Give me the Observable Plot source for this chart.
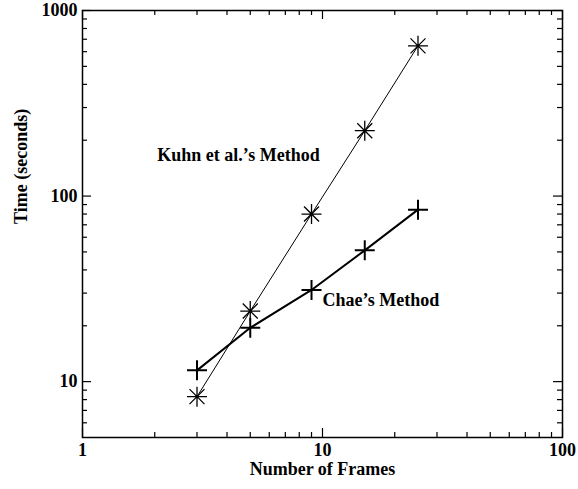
<!DOCTYPE html>
<html>
<head>
<meta charset="utf-8">
<script src="https://cdn.jsdelivr.net/npm/d3@7"></script>
<script src="https://cdn.jsdelivr.net/npm/@observablehq/plot@0.6"></script>
<style>
  html, body { margin: 0; padding: 0; background: #fff; }
</style>
</head>
<body>
<div id="chart"></div>
<script>
// ---- data ----
const frames = [3, 5, 9, 15, 25];
const kuhnTimes = [8.3, 24, 80, 225, 645];
const chaeTimes = [11.5, 19.5, 31.2, 51, 84.5];

const xTickValues = [1, 10, 100];
const xMinorTicks = [2, 3, 4, 5, 6, 7, 8, 9, 20, 30, 40, 50, 60, 70, 80, 90];
const yTickValues = [10, 100, 1000];
const yMinorTicks = [6, 7, 8, 9, 20, 30, 40, 50, 60, 70, 80, 90, 200, 300, 400, 500, 600, 700, 800, 900];

const seriesLabels = ["Kuhn et al.\u2019s Method", "Chae\u2019s Method"];
const labelX = [2.05, 10];
const labelY = [165, 27.5];

const xTitle = "Number of Frames";
const yTitle = "Time (seconds)";

// ---- layout ----
const W = 578, H = 489;
const mL = 82, mR = 16, mT = 10, mB = 52;
const plotW = W - mL - mR, plotH = H - mT - mB;
const major = 9, minor = 5;

const kuhn = frames.map((f, i) => ({frames: f, time: kuhnTimes[i]}));
const chae = frames.map((f, i) => ({frames: f, time: chaeTimes[i]}));
const labels = seriesLabels.map((t, i) => ({text: t, x: labelX[i], y: labelY[i]}));

const asterisk8 = {
  draw(ctx, size) {
    const r = Math.sqrt(size / Math.PI);
    const d = r * 0.75;
    ctx.moveTo(-r, 0); ctx.lineTo(r, 0);
    ctx.moveTo(0, -r); ctx.lineTo(0, r);
    ctx.moveTo(-d, -d); ctx.lineTo(d, d);
    ctx.moveTo(-d, d); ctx.lineTo(d, -d);
  }
};
const plusOpen = {
  draw(ctx, size) {
    const r = Math.sqrt(size / Math.PI);
    ctx.moveTo(-r, 0); ctx.lineTo(r, 0);
    ctx.moveTo(0, -r); ctx.lineTo(0, r);
  }
};

const chart = Plot.plot({
  width: W,
  height: H,
  marginLeft: mL,
  marginRight: mR,
  marginTop: mT,
  marginBottom: mB,
  style: {fontFamily: "'Liberation Serif', 'Times New Roman', serif", fontWeight: "bold", fontSize: "18px", color: "black", background: "white"},
  x: {type: "log", domain: [1, 100], axis: null},
  y: {type: "log", domain: [5, 1000], axis: null},
  marks: [
    // inward ticks: bottom
    Plot.ruleX(xTickValues, {x: d => d, insetTop: plotH - major, stroke: "black", strokeWidth: 1.2}),
    Plot.ruleX(xMinorTicks, {x: d => d, insetTop: plotH - minor, stroke: "black", strokeWidth: 1.2}),
    // top
    Plot.ruleX(xTickValues, {x: d => d, insetBottom: plotH - major, stroke: "black", strokeWidth: 1.2}),
    Plot.ruleX(xMinorTicks, {x: d => d, insetBottom: plotH - minor, stroke: "black", strokeWidth: 1.2}),
    // left
    Plot.ruleY(yTickValues, {y: d => d, insetRight: plotW - major, stroke: "black", strokeWidth: 1.2}),
    Plot.ruleY(yMinorTicks, {y: d => d, insetRight: plotW - minor, stroke: "black", strokeWidth: 1.2}),
    // right
    Plot.ruleY(yTickValues, {y: d => d, insetLeft: plotW - major, stroke: "black", strokeWidth: 1.2}),
    Plot.ruleY(yMinorTicks, {y: d => d, insetLeft: plotW - minor, stroke: "black", strokeWidth: 1.2}),
    Plot.frame({stroke: "black", strokeWidth: 1.5}),
    // tick labels
    Plot.text(xTickValues, {x: d => d, text: d => String(d), frameAnchor: "bottom", dy: 18}),
    Plot.text(yTickValues, {y: d => d, text: d => String(d), frameAnchor: "left", textAnchor: "end", dx: -5}),
    // axis titles
    Plot.text([xTitle], {text: d => d, frameAnchor: "bottom", dy: 37}),
    Plot.text([yTitle], {text: d => d, frameAnchor: "left", rotate: -90, dx: -61.5}),
    // series
    Plot.line(kuhn, {x: "frames", y: "time", stroke: "black", strokeWidth: 1}),
    Plot.dot(kuhn, {x: "frames", y: "time", symbol: asterisk8, r: 10, fill: "none", stroke: "black", strokeWidth: 1.3}),
    Plot.line(chae, {x: "frames", y: "time", stroke: "black", strokeWidth: 2}),
    Plot.dot(chae, {x: "frames", y: "time", symbol: plusOpen, r: 10, fill: "none", stroke: "black", strokeWidth: 2}),
    // series labels
    Plot.text(labels, {x: "x", y: "y", text: "text", textAnchor: "start", fontSize: 18})
  ]
});

document.getElementById("chart").appendChild(chart);
</script>
</body>
</html>
